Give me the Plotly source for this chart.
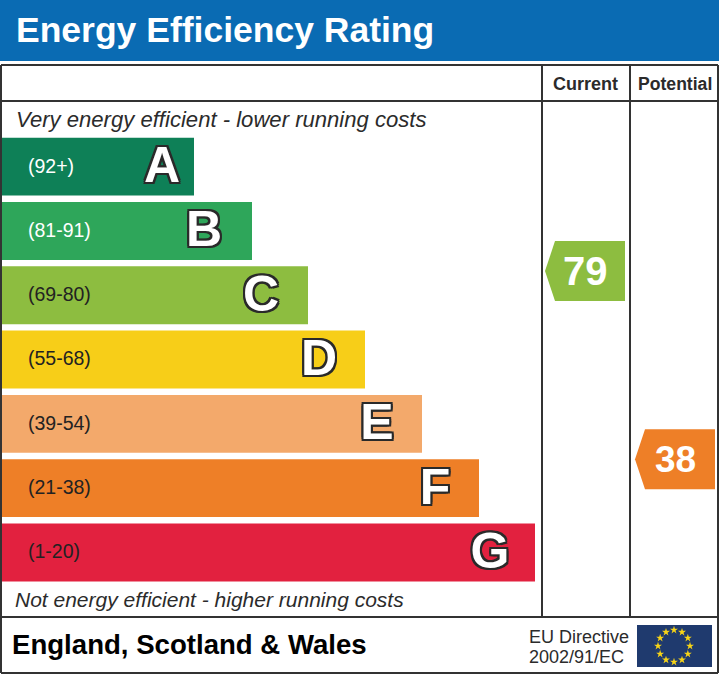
import numpy as np
import plotly.graph_objects as go

# the picture is 719x675, so the main axes just run in pixels
W = 719
H = 675

letters = ["A", "B", "C", "D", "E", "F", "G"]
ranges = ["(92+)", "(81-91)", "(69-80)", "(55-68)", "(39-54)", "(21-38)", "(1-20)"]
band_tops = [92, 81, 69, 55, 39, 21, 1]
band_ends = [194, 252, 308, 365, 422, 479, 535]
letter_centers = [162, 204, 261, 319, 377, 435, 490]
band_colors = ["#0e8057", "#2ea65a", "#8dbd40", "#f7ce18", "#f3a96b", "#ee7f27", "#e2213f"]
range_colors = ["white", "white", "#222222", "#222222", "#222222", "#222222", "#222222"]

current = 79
potential = 38
current_color = "#8dbd40"
potential_color = "#ee7f27"

title = "Energy Efficiency Rating"
top_note = "Very energy efficient - lower running costs"
bottom_note = "Not energy efficient - higher running costs"
country = "England, Scotland & Wales"
directive = ["EU Directive", "2002/91/EC"]

FONT = "Liberation Sans"
DARK = "#333333"
BAR_LEFT = 2
BANDS_TOP = 134.5
BAND_STEP = 64.3


def rating_to_y(rating):
    # arrow sits inside its band, at the height the rating has in that band
    for i, low in enumerate(band_tops):
        if rating >= low:
            high = band_tops[i - 1] - 1 if i > 0 else 100
            top = BANDS_TOP + 3.2 + i * BAND_STEP
            return top + (high - rating) / (high - low + 1) * (BAND_STEP - 6.4)
    return BANDS_TOP


def arrow_path(left, center):
    right = left + 80
    shoulder = left + 10
    return (f"M {left} {center} L {shoulder} {center - 30} L {right} {center - 30} "
            f"L {right} {center + 30} L {shoulder} {center + 30} Z")


def line(x0, y0, x1, y1):
    return dict(type="line", xref="x", yref="y2", x0=x0, y0=y0, x1=x1, y1=y1,
                line=dict(color=DARK, width=2))


def label(x, y, text, size, color="#2b2b2b", anchor="left", bold=False, italic=False):
    return dict(xref="x", yref="y2", x=x, y=y, text=text, showarrow=False,
                xanchor=anchor, yanchor="middle",
                font=dict(family=FONT, size=size, color=color,
                          weight="bold" if bold else "normal",
                          style="italic" if italic else "normal"))


band_middles = [BANDS_TOP + (i + 0.5) * BAND_STEP for i in range(len(letters))]

fig = go.Figure()

fig.add_trace(go.Bar(
    y=letters,
    x=[end - BAR_LEFT for end in band_ends],
    base=BAR_LEFT,
    orientation="h",
    marker=dict(color=band_colors, line=dict(width=0)),
    hoverinfo="skip",
))

fig.add_trace(go.Scatter(
    x=[28] * len(letters),
    y=[m + 1 for m in band_middles],
    yaxis="y2",
    mode="text",
    text=ranges,
    textposition="middle right",
    textfont=dict(family=FONT, size=19.5, color=range_colors),
    hoverinfo="skip",
))

# white letters with a dark outline
outline = ", ".join(f"{dx}px {dy}px 0 #2a2a2a" for dx in (-2, 0, 2) for dy in (-2, 0, 2) if dx or dy)
fig.add_trace(go.Scatter(
    x=letter_centers,
    y=[m + 3 for m in band_middles],
    yaxis="y2",
    mode="text",
    text=letters,
    textposition="middle center",
    textfont=dict(family=FONT, size=50, color="white", weight="bold", shadow=outline),
    hoverinfo="skip",
))

# EU flag stars
angles = np.arange(12) * np.pi / 6
fig.add_trace(go.Scatter(
    x=674 + 16 * np.cos(angles),
    y=646 + 16 * np.sin(angles),
    yaxis="y2",
    mode="markers",
    marker=dict(symbol="star", size=6, color="#f7d417"),
    hoverinfo="skip",
))

shapes = [
    dict(type="rect", xref="x", yref="y2", x0=0, y0=0, x1=W, y1=61,
         fillcolor="#0a6bb3", line=dict(width=0), layer="below"),
    dict(type="rect", xref="x", yref="y2", x0=637, y0=625, x1=712, y1=667,
         fillcolor="#1f3a6e", line=dict(width=0), layer="below"),
    line(1, 65, 718, 65),
    line(1, 101, 718, 101),
    line(1, 617, 718, 617),
    line(1, 673, 718, 673),
    line(1, 65, 1, 673),
    line(718, 65, 718, 673),
    line(542, 65, 542, 617),
    line(630, 65, 630, 617),
]
for left, rating, color in [(545, current, current_color), (635, potential, potential_color)]:
    shapes.append(dict(type="path", xref="x", yref="y2", path=arrow_path(left, rating_to_y(rating)),
                       fillcolor=color, line=dict(width=0), layer="below"))

annotations = [
    label(14, 30, title, 35.5, color="white", bold=True),
    label(14, 119.5, top_note, 22.1, italic=True),
    label(13, 599, bottom_note, 21, italic=True),
    label(585, 84, "Current", 18, anchor="center", bold=True),
    label(675, 84, "Potential", 17.6, anchor="center", bold=True),
    label(585, rating_to_y(current), str(current), 40, color="white", anchor="center", bold=True),
    label(675, rating_to_y(potential), str(potential), 37, color="white", anchor="center", bold=True),
    label(10, 644, country, 27.6, color="black", bold=True),
    label(527, 636.5, directive[0], 18),
    label(527, 656.5, directive[1], 18),
]

fig.update_layout(
    width=W,
    height=H,
    margin=dict(l=0, r=0, t=0, b=0),
    paper_bgcolor="white",
    plot_bgcolor="rgba(0,0,0,0)",
    showlegend=False,
    bargap=0.1,
    shapes=shapes,
    annotations=annotations,
    xaxis=dict(range=[0, W], visible=False),
    yaxis=dict(visible=False, type="category", range=[6.5, -0.5],
               domain=[(H - BANDS_TOP - 7 * BAND_STEP) / H, (H - BANDS_TOP) / H]),
    yaxis2=dict(visible=False, range=[H, 0], domain=[0, 1], anchor="x"),
)

fig.write_html("out.html", post_script="document.body.style.margin='0';",
               config={"displayModeBar": False})
